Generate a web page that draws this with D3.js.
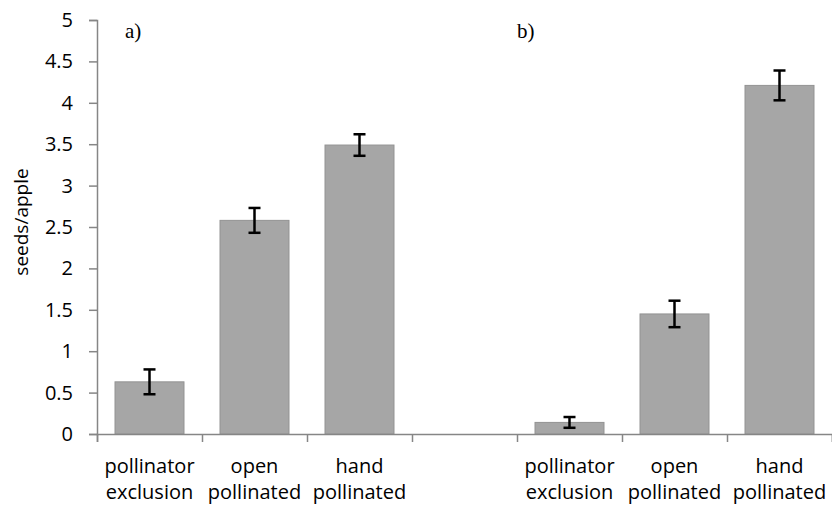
<!DOCTYPE html>
<html>
<head>
<meta charset="utf-8">
<script src="https://cdn.jsdelivr.net/npm/d3@7"></script>
<style>
  body { margin: 0; background: #fff; }
  svg { display: block; }
</style>
</head>
<body>
<svg width="832" height="509"></svg>
<script>
// categories, left panel a), empty slot, right panel b)
var keys = ["a1", "a2", "a3", "gap", "b1", "b2", "b3"];
var labels1 = ["pollinator", "open", "hand", "", "pollinator", "open", "hand"];
var labels2 = ["exclusion", "pollinated", "pollinated", "", "exclusion", "pollinated", "pollinated"];
var seeds = [0.63, 2.58, 3.49, null, 0.14, 1.45, 4.21];
var errs = [0.15, 0.15, 0.13, null, 0.065, 0.16, 0.18];
var yTicks = [0, 0.5, 1, 1.5, 2, 2.5, 3, 3.5, 4, 4.5, 5];
var panelText = ["a)", "b)"];
var panelSlot = [0, 4];

var data = keys.map(function(k, i) {
  return {key: k, l1: labels1[i], l2: labels2[i], v: seeds[i], e: errs[i]};
});

var svg = d3.select("svg"),
    margin = {top: 20, right: 0, bottom: 75, left: 97},
    width = +svg.attr("width") - margin.left - margin.right,
    height = +svg.attr("height") - margin.top - margin.bottom;

var font = "'Open Sans', sans-serif";

var g = svg.append("g")
    .attr("transform", "translate(" + margin.left + "," + margin.top + ")");

var pad = 0.343;
var x = d3.scaleBand().domain(keys).range([0, width])
    .paddingInner(pad).paddingOuter(pad / 2);
var xEdge = d3.scaleLinear().domain([0, keys.length]).range([0, width]);
var y = d3.scaleLinear().domain([0, 5]).range([height, 0]);

// y axis
var yAxis = g.append("g")
    .call(d3.axisLeft(y).tickValues(yTicks).tickSize(8).tickPadding(16)
      .tickFormat(function(d) { return d; }));
yAxis.select(".domain").attr("stroke", "#868686").attr("stroke-width", 1.5);
yAxis.selectAll(".tick line").attr("stroke", "#868686").attr("stroke-width", 1.5);
yAxis.selectAll(".tick text")
    .style("font-family", font).style("font-size", "20px").attr("fill", "#000");

// bars
var bars = data.filter(function(d) { return d.v != null; });
g.selectAll("rect.bar").data(bars).enter().append("rect")
    .attr("class", "bar")
    .attr("x", function(d) { return x(d.key); })
    .attr("y", function(d) { return y(d.v); })
    .attr("width", x.bandwidth())
    .attr("height", function(d) { return height - y(d.v); })
    .attr("fill", "#a6a6a6")
    .attr("stroke", "#939393")
    .attr("stroke-width", 1);

// error bars
var eb = g.selectAll("g.err").data(bars).enter().append("g")
    .attr("class", "err")
    .attr("stroke", "#000").attr("stroke-width", 2.5);
var cx = function(d) { return x(d.key) + x.bandwidth() / 2; };
eb.append("line")
    .attr("x1", cx).attr("x2", cx)
    .attr("y1", function(d) { return y(d.v + d.e); })
    .attr("y2", function(d) { return y(d.v - d.e); });
eb.append("line")
    .attr("x1", function(d) { return cx(d) - 6; }).attr("x2", function(d) { return cx(d) + 6; })
    .attr("y1", function(d) { return y(d.v + d.e); })
    .attr("y2", function(d) { return y(d.v + d.e); });
eb.append("line")
    .attr("x1", function(d) { return cx(d) - 6; }).attr("x2", function(d) { return cx(d) + 6; })
    .attr("y1", function(d) { return y(d.v - d.e); })
    .attr("y2", function(d) { return y(d.v - d.e); });

// x axis, ticks between categories
var xAxis = g.append("g")
    .attr("transform", "translate(0," + height + ")")
    .call(d3.axisBottom(xEdge).ticks(keys.length).tickSizeOuter(0).tickSize(8).tickFormat(""));
xAxis.select(".domain").attr("stroke", "#868686").attr("stroke-width", 1.5);
xAxis.selectAll(".tick line").attr("stroke", "#868686").attr("stroke-width", 1.5);

var lab = g.selectAll("text.xl").data(data).enter().append("text")
    .attr("class", "xl")
    .attr("text-anchor", "middle")
    .style("font-family", font).style("font-size", "20px");
lab.append("tspan")
    .attr("x", cx).attr("y", height + 39)
    .text(function(d) { return d.l1; });
lab.append("tspan")
    .attr("x", cx).attr("y", height + 65)
    .text(function(d) { return d.l2; });

// y label
svg.append("text")
    .attr("transform", "translate(28,222) rotate(-90)")
    .attr("text-anchor", "middle")
    .style("font-family", font).style("font-size", "19px")
    .text("seeds/apple");

// panel labels
g.selectAll("text.panel").data(panelText).enter().append("text")
    .attr("class", "panel")
    .attr("x", function(d, i) { return xEdge(panelSlot[i]) + (i === 0 ? 28 : 0); })
    .attr("y", 18)
    .style("font-family", "'Liberation Serif', 'Times New Roman', serif").style("font-size", "21px")
    .text(function(d) { return d; });
</script>
</body>
</html>
